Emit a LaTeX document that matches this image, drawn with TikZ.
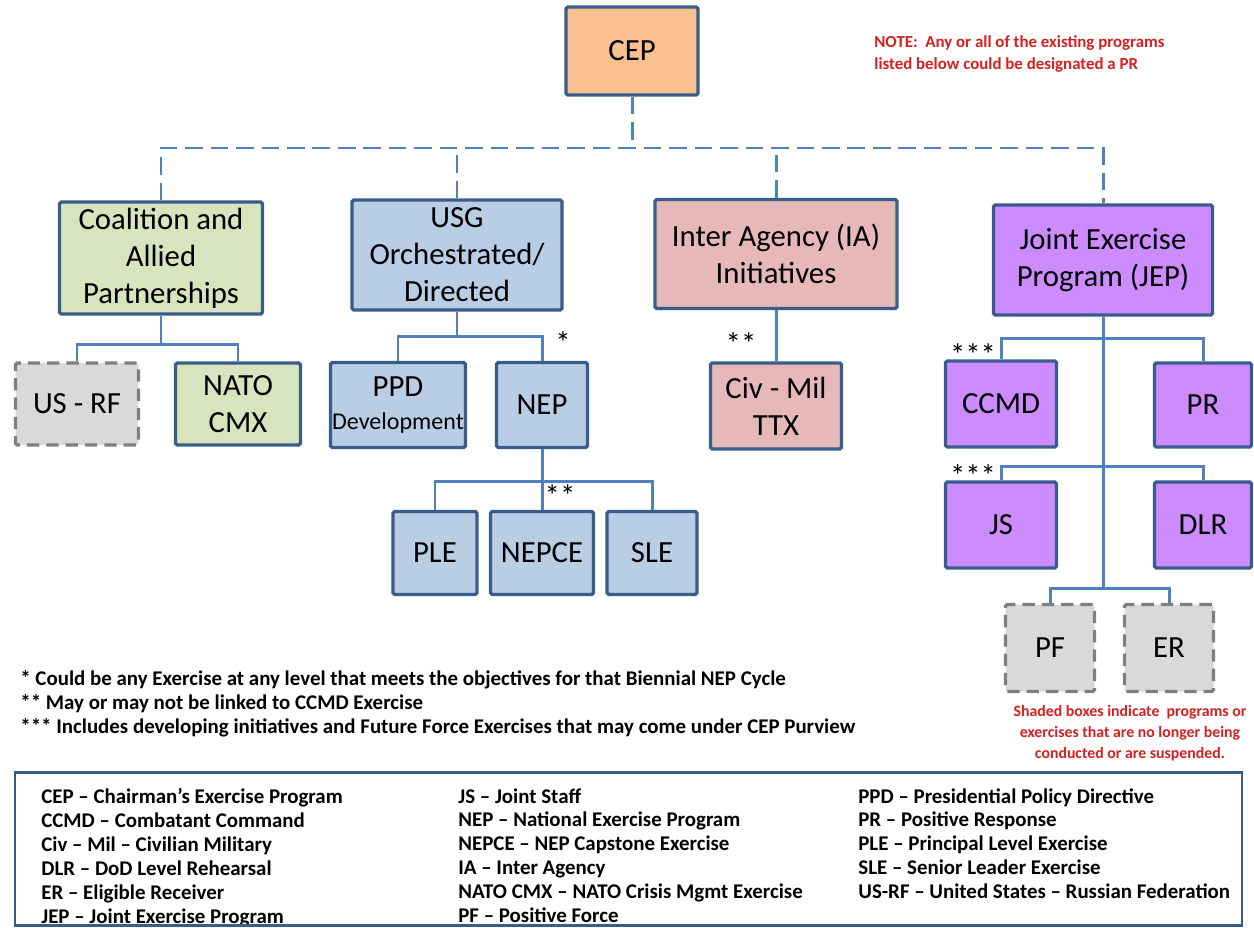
\documentclass[tikz,border=0pt]{standalone}
\usepackage{fontspec}
\setmainfont{Carlito}
\usetikzlibrary{positioning}
\definecolor{boxEdge}{HTML}{385D8A}
\definecolor{linkBlue}{HTML}{4F81BD}
\definecolor{cepOrange}{HTML}{FAC090}
\definecolor{allyGreen}{HTML}{D7E4BD}
\definecolor{usgBlue}{HTML}{B9CDE5}
\definecolor{iaPink}{HTML}{E6B9B8}
\definecolor{jepPurple}{HTML}{CC8CFF}
\definecolor{ghostGray}{HTML}{D9D9D9}
\definecolor{ghostEdge}{HTML}{7F7F7F}
\definecolor{noteRed}{HTML}{D42020}
\tikzset{
  box/.style={draw=boxEdge, line width=1.9pt, rounded corners=1pt, align=center,
    inner sep=0pt, font=\fontsize{17.5}{21}\selectfont},
  ghostbox/.style={box, draw=ghostEdge, fill=ghostGray, dash pattern=on 7pt off 4pt},
  link/.style={draw=linkBlue, line width=1.7pt},
  dashlink/.style={link, dash pattern=on 10pt off 4.5pt},
  stars/.style={inner sep=0pt, font=\fontsize{17.5}{21}\selectfont},
  note/.style={text=noteRed, inner sep=0pt, font=\fontsize{9.6}{12.5}\selectfont\bfseries},
  legtext/.style={inner sep=0pt, align=left, font=\fontsize{11.9}{13.6}\selectfont\bfseries},
}
\begin{document}
\begin{tikzpicture}[x=0.02cm, y=-0.02cm]
  \useasboundingbox (0,0) rectangle (1254,927);

  % top of the chart
  \node[box, fill=cepOrange, minimum width=2.64cm, minimum height=1.76cm] (cep) at (632,51) {CEP};
  \node[note, anchor=north west, align=left] (topnote) at (874,35)
    {NOTE:\ \ Any or all of the existing programs\\listed below could be designated a PR};

  % program families
  \node[box, fill=allyGreen, minimum width=4.06cm, minimum height=2.24cm] (coal) at (161,258)
    {Coalition and\\Allied\\Partnerships};
  \node[box, fill=usgBlue, minimum width=4.2cm, minimum height=2.2cm] (usg) at (457,255)
    {USG\\Orchestrated/\\Directed};
  \node[box, fill=iaPink, minimum width=4.84cm, minimum height=2.18cm] (ia) at (776,254)
    {Inter Agency (IA)\\Initiatives};
  \node[box, fill=jepPurple, minimum width=4.38cm, minimum height=2.2cm] (jep) at (1103,260)
    {Joint Exercise\\Program (JEP)};

  \coordinate (bus) at (632,148);
  \draw[dashlink] (cep.south) -- (bus);
  \draw[dashlink] (coal.north) |- (bus) -| (jep.north);
  \draw[dashlink] (usg.north) -- (usg.north |- bus);
  \draw[dashlink] (ia.north) -- (ia.north |- bus);

  % coalition
  \node[ghostbox, minimum width=2.46cm, minimum height=1.64cm] (usrf) at (77,404) {US - RF};
  \node[box, fill=allyGreen, minimum width=2.5cm, minimum height=1.64cm] (nato) at (238,404) {NATO\\CMX};
  \draw[link] (coal.south) -- ++(0,29) -| (usrf.north);
  \draw[link] (coal.south) -- ++(0,29) -| (nato.north);

  % usg
  \node[box, fill=usgBlue, minimum width=2.7cm, minimum height=1.7cm] (ppd) at (398,405)
    {PPD\\[-2pt]{\fontsize{13.7}{16}\selectfont Development}};
  \node[box, fill=usgBlue, minimum width=1.82cm, minimum height=1.7cm] (nep) at (542,405) {NEP};
  \draw[link] (usg.south) -- ++(0,25) -| (ppd.north);
  \draw[link] (usg.south) -- ++(0,25) -| (nep.north);
  \node[stars] (astNep) at (563,343) {*};

  \node[box, fill=usgBlue, minimum width=1.68cm, minimum height=1.66cm] (ple) at (435,553) {PLE};
  \node[box, fill=usgBlue, minimum width=2.06cm, minimum height=1.66cm] (nepce) at (542,553) {NEPCE};
  \node[box, fill=usgBlue, minimum width=1.8cm, minimum height=1.66cm] (sle) at (652,553) {SLE};
  \draw[link] (nep.south) -- ++(0,32) -| (ple.north);
  \draw[link] (nep.south) -- ++(0,32) -| (nepce.north);
  \draw[link] (nep.south) -- ++(0,32) -| (sle.north);
  \node[stars] (astNepce) at (560,496) {**};

  % inter agency
  \node[box, fill=iaPink, minimum width=2.62cm, minimum height=1.72cm] (civ) at (776,406) {Civ - Mil\\TTX};
  \draw[link] (ia.south) -- (civ.north);
  \node[stars] (astCiv) at (741,344) {**};

  % joint exercise program
  \node[box, fill=jepPurple, minimum width=2.22cm, minimum height=1.72cm] (ccmd) at (1001,404) {CCMD};
  \node[box, fill=jepPurple, minimum width=1.94cm, minimum height=1.68cm] (pr) at (1203,405) {PR};
  \node[box, fill=jepPurple, minimum width=2.22cm, minimum height=1.72cm] (js) at (1001,525) {JS};
  \node[box, fill=jepPurple, minimum width=1.94cm, minimum height=1.72cm] (dlr) at (1203,525) {DLR};
  \node[ghostbox, minimum width=1.78cm, minimum height=1.74cm] (pf) at (1050,648) {PF};
  \node[ghostbox, minimum width=1.78cm, minimum height=1.74cm] (er) at (1169,648) {ER};
  \draw[link] (jep.south) -- ++(0,22) -| (ccmd.north);
  \draw[link] (jep.south) -- ++(0,22) -| (pr.north);
  \draw[link] (jep.south) -- ++(0,150) -| (js.north);
  \draw[link] (jep.south) -- ++(0,150) -| (dlr.north);
  \draw[link] (jep.south) -- ++(0,272) -| (pf.north);
  \draw[link] (jep.south) -- ++(0,272) -| (er.north);
  \node[stars] (astCcmd) at (973,355) {***};
  \node[stars] (astJs) at (973,476) {***};

  % notes
  \node[note, align=center, font=\fontsize{9}{12}\selectfont\bfseries] (shadenote) at (1130,733)
    {Shaded boxes indicate\ \ programs or\\exercises that are no longer being\\conducted or are suspended.};
  \node[legtext, anchor=north west] (footnotes) at (20,670)
    {* Could be any Exercise at any level that meets the objectives for that Biennial NEP Cycle\\
     ** May or may not be linked to CCMD Exercise\\
     *** Includes developing initiatives and Future Force Exercises that may come under CEP Purview};

  % legend
  \node[legtext, anchor=north west] (legA) at (41,788)
    {CEP – Chairman’s Exercise Program\\CCMD – Combatant Command\\Civ – Mil – Civilian Military\\
     DLR – DoD Level Rehearsal\\ER – Eligible Receiver\\JEP – Joint Exercise Program};
  \node[legtext, anchor=north west] (legB) at (458,788)
    {JS – Joint Staff\\NEP – National Exercise Program\\NEPCE – NEP Capstone Exercise\\
     IA – Inter Agency\\NATO CMX – NATO Crisis Mgmt Exercise\\PF – Positive Force};
  \node[legtext, anchor=north west] (legC) at (858,788)
    {PPD – Presidential Policy Directive\\PR – Positive Response\\PLE – Principal Level Exercise\\
     SLE – Senior Leader Exercise\\US-RF – United States – Russian Federation};
  \node[draw=boxEdge, line width=1.5pt, minimum width=24.54cm, minimum height=3.06cm] (legend) at (628.5,849) {};
\end{tikzpicture}
\end{document}
